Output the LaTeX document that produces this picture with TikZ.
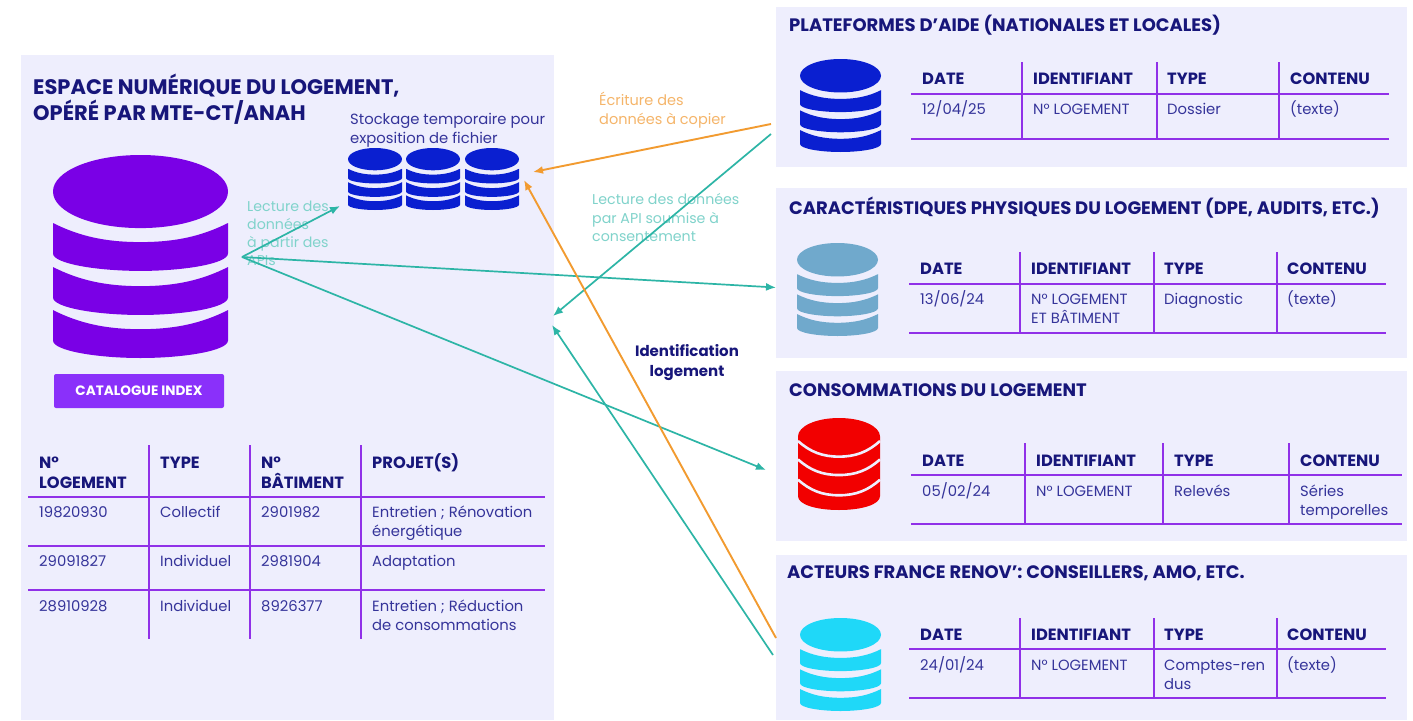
\documentclass[tikz,border=0pt]{standalone}
\usepackage{fontspec}
\setmainfont{Poppins}
\usetikzlibrary{arrows.meta}
\definecolor{panelbg}{HTML}{EEEEFD}
\definecolor{navy}{HTML}{17167A}
\definecolor{cellink}{HTML}{35349A}
\definecolor{rule}{HTML}{9030E8}
\definecolor{tealline}{HTML}{2DB5A6}
\definecolor{teallabel}{HTML}{80D3CB}
\definecolor{orangeline}{HTML}{F29B30}
\definecolor{orangelabel}{HTML}{F5B56A}
\definecolor{dbpurple}{HTML}{7A00E6}
\definecolor{dbblue}{HTML}{0A1FD0}
\definecolor{dbsteel}{HTML}{70A9CC}
\definecolor{dbred}{HTML}{F20000}
\definecolor{dbcyan}{HTML}{1FD8F8}
\definecolor{btn}{HTML}{8A30FA}
\newcounter{nn}
\tikzset{
  panel/.style={fill=panelbg,draw=none,inner sep=0,anchor=north west},
  lab/.style={inner sep=0,anchor=base west,align=left},
  ttl/.style={font=\fontsize{18}{26}\selectfont\bfseries,text=navy},
  bigttl/.style={font=\fontsize{21}{26}\selectfont\bfseries,text=navy},
  hd/.style={font=\fontsize{16.3}{20}\selectfont\bfseries,text=navy},
  idt/.style={font=\fontsize{15}{20}\selectfont\bfseries,text=navy},
  cl/.style={font=\fontsize{14.8}{19}\selectfont,text=cellink},
  tealnote/.style={font=\fontsize{14.2}{18.5}\selectfont,text=teallabel},
  orangenote/.style={font=\fontsize{14.5}{19}\selectfont,text=orangelabel},
  rl/.style={draw=rule,line width=1.5pt},
  tealarrow/.style={draw=tealline,line width=1.7pt,-{Latex[length=10pt,width=8pt]}},
  orangearrow/.style={draw=orangeline,line width=1.9pt,-{Latex[length=10pt,width=8pt]}},
}
\newcommand\lab[4]{\stepcounter{nn}\node[lab,#3] (lab\arabic{nn}) at (#1,#2) {#4};}
\newcommand\pnl[4]{\stepcounter{nn}\node[panel,minimum width=#3pt,minimum height=#4pt] (pnl\arabic{nn}) at (#1,#2) {};}
% x0 y0 width height colour
\newcommand\dbicon[5]{\begin{scope}[shift={(#1,#2)},x=#3pt,y=-#4pt,fill=#5]
  \fill (0,.18) .. controls (0,.08) and (.22,0) .. (.5,0) .. controls (.78,0) and (1,.08) .. (1,.18) .. controls (1,.28) and (.78,.36) .. (.5,.36) .. controls (.22,.36) and (0,.28) .. (0,.18) -- cycle;
  \foreach \s in {.335,.552,.764}{
    \fill (0,\s) .. controls (.15,\s+.065) and (.3,\s+.094) .. (.5,\s+.094) .. controls (.7,\s+.094) and (.85,\s+.065) .. (1,\s) -- (1,\s+.15) .. controls (1,\s+.2) and (.75,\s+.236) .. (.5,\s+.236) .. controls (.25,\s+.236) and (0,\s+.2) .. (0,\s+.15) -- cycle;
  }
\end{scope}}
\newcommand\dbsolid[5]{\begin{scope}[shift={(#1,#2)},x=#3pt,y=-#4pt]
  \fill[#5] (0,.2) .. controls (0,.09) and (.22,0) .. (.5,0) .. controls (.78,0) and (1,.09) .. (1,.2) -- (1,.85) .. controls (1,.94) and (.78,1) .. (.5,1) .. controls (.22,1) and (0,.94) .. (0,.85) -- cycle;
  \foreach \s in {.25,.45,.67}{
    \draw[panelbg,line width=2.6pt] (0,\s) .. controls (.15,\s+.12) and (.3,\s+.17) .. (.5,\s+.17) .. controls (.7,\s+.17) and (.85,\s+.12) .. (1,\s);
  }
\end{scope}}
\begin{document}
\begin{tikzpicture}[x=1pt,y=-1pt]
\useasboundingbox (0,0) rectangle (1413,720);
\fill[white] (0,0) rectangle (1413,720);
% panels
\pnl{21}{55}{533}{665}
\pnl{776}{7}{631}{160}
\pnl{776}{188}{631}{170}
\pnl{776}{371}{631}{170}
\pnl{776}{555}{631}{165}
% database icons
\dbicon{53}{155}{175}{203}{dbpurple}
\dbicon{348}{148}{54}{62}{dbblue}
\dbicon{406}{148}{54}{62}{dbblue}
\dbicon{465}{148}{54}{62}{dbblue}
\dbicon{800}{59}{81}{93}{dbblue}
\dbicon{797}{243}{81}{93}{dbsteel}
\dbsolid{798}{418}{82}{92}{dbred}
\dbicon{800}{618}{81}{93}{dbcyan}
% left panel
\lab{33}{94}{bigttl}{ESPACE NUMÉRIQUE DU LOGEMENT,}
\lab{33}{120}{bigttl}{OPÉRÉ PAR MTE-CT/ANAH}
\lab{350}{124}{cl}{Stockage temporaire pour}
\lab{350}{143}{cl}{exposition de fichier}
\node[fill=btn,rounded corners=2pt,minimum width=170pt,minimum height=34pt,inner sep=0,text=white,font=\fontsize{13.6}{14}\selectfont\bfseries] (catalogue) at (139,391) {CATALOGUE INDEX};
% left table
\draw[rl] (149,445) -- (149,639);
\draw[rl] (250,445) -- (250,639);
\draw[rl] (361,445) -- (361,639);
\draw[rl] (28,497) -- (545,497);
\draw[rl] (28,546) -- (545,546);
\draw[rl] (28,590) -- (545,590);
\lab{39}{468}{hd}{N°}
\lab{39}{488}{hd}{LOGEMENT}
\lab{160}{468}{hd}{TYPE}
\lab{261}{468}{hd}{N°}
\lab{261}{488}{hd}{BÂTIMENT}
\lab{372}{468}{hd}{PROJET(S)}
\lab{39}{517}{cl}{19820930}
\lab{160}{517}{cl}{Collectif}
\lab{261}{517}{cl}{2901982}
\lab{372}{517}{cl}{Entretien ; Rénovation}
\lab{372}{536}{cl}{énergétique}
\lab{39}{566}{cl}{29091827}
\lab{160}{566}{cl}{Individuel}
\lab{261}{566}{cl}{2981904}
\lab{372}{566}{cl}{Adaptation}
\lab{39}{611}{cl}{28910928}
\lab{160}{611}{cl}{Individuel}
\lab{261}{611}{cl}{8926377}
\lab{372}{611}{cl}{Entretien ; Réduction}
\lab{372}{630}{cl}{de consommations}
% table 1
\lab{789}{31}{ttl}{PLATEFORMES D’AIDE (NATIONALES ET LOCALES)}
\draw[rl] (911,94) -- (1389,94);
\draw[rl] (911,139) -- (1389,139);
\draw[rl] (1022,62) -- (1022,139);
\draw[rl] (1157,62) -- (1157,139);
\draw[rl] (1279,62) -- (1279,139);
\lab{922}{84}{hd}{DATE}
\lab{1033}{84}{hd}{IDENTIFIANT}
\lab{1167}{84}{hd}{TYPE}
\lab{1290}{84}{hd}{CONTENU}
\lab{922}{114}{cl}{12/04/25}
\lab{1033}{114}{cl}{N° LOGEMENT}
\lab{1167}{114}{cl}{Dossier}
\lab{1290}{114}{cl}{(texte)}
% table 2
\lab{789}{214}{ttl}{CARACTÉRISTIQUES PHYSIQUES DU LOGEMENT (DPE, AUDITS, ETC.)}
\draw[rl] (909,284) -- (1386,284);
\draw[rl] (909,333) -- (1386,333);
\draw[rl] (1020,252) -- (1020,333);
\draw[rl] (1154,252) -- (1154,333);
\draw[rl] (1277,252) -- (1277,333);
\lab{920}{274}{hd}{DATE}
\lab{1031}{274}{hd}{IDENTIFIANT}
\lab{1164}{274}{hd}{TYPE}
\lab{1287}{274}{hd}{CONTENU}
\lab{920}{304}{cl}{13/06/24}
\lab{1031}{304}{cl}{N° LOGEMENT}
\lab{1031}{323}{cl}{ET BÂTIMENT}
\lab{1164}{304}{cl}{Diagnostic}
\lab{1287}{304}{cl}{(texte)}
% table 3
\lab{789}{396}{ttl}{CONSOMMATIONS DU LOGEMENT}
\draw[rl] (911,475) -- (1402,475);
\draw[rl] (911,524) -- (1402,524);
\draw[rl] (1025,443) -- (1025,524);
\draw[rl] (1163,443) -- (1163,524);
\draw[rl] (1289,443) -- (1289,524);
\lab{922}{466}{hd}{DATE}
\lab{1036}{466}{hd}{IDENTIFIANT}
\lab{1174}{466}{hd}{TYPE}
\lab{1300}{466}{hd}{CONTENU}
\lab{922}{496}{cl}{05/02/24}
\lab{1036}{496}{cl}{N° LOGEMENT}
\lab{1174}{496}{cl}{Relevés}
\lab{1300}{496}{cl}{Séries}
\lab{1300}{515}{cl}{temporelles}
% table 4
\lab{787}{578}{ttl}{ACTEURS FRANCE RENOV’: CONSEILLERS, AMO, ETC.}
\draw[rl] (909,649) -- (1386,649);
\draw[rl] (909,698) -- (1386,698);
\draw[rl] (1020,618) -- (1020,698);
\draw[rl] (1154,618) -- (1154,698);
\draw[rl] (1277,618) -- (1277,698);
\lab{920}{640}{hd}{DATE}
\lab{1031}{640}{hd}{IDENTIFIANT}
\lab{1164}{640}{hd}{TYPE}
\lab{1287}{640}{hd}{CONTENU}
\lab{920}{670}{cl}{24/01/24}
\lab{1031}{670}{cl}{N° LOGEMENT}
\lab{1164}{670}{cl}{Comptes-ren}
\lab{1164}{689}{cl}{dus}
\lab{1287}{670}{cl}{(texte)}
% connector labels
\lab{247}{211}{tealnote}{Lecture des}
\lab{247}{229}{tealnote}{données}
\lab{247}{247}{tealnote}{à partir des}
\lab{247}{265}{tealnote}{APIs}
\lab{599}{105}{orangenote}{Écriture des}
\lab{599}{124}{orangenote}{données à copier}
\lab{592}{204}{tealnote}{Lecture des données}
\lab{592}{223}{tealnote}{par API soumise à}
\lab{592}{241}{tealnote}{consentement}
\node[inner sep=0,anchor=base,idt] (identA) at (687,356) {Identification};
\node[inner sep=0,anchor=base,idt] (identB) at (687,376) {logement};
% connector ends
\coordinate (hub) at (242,257);
\coordinate (stockA) at (340,206);
\coordinate (stockB) at (533,172);
\coordinate (stockC) at (524,180);
\coordinate (platA) at (771,124);
\coordinate (platB) at (771,134);
\coordinate (charIn) at (776,287.5);
\coordinate (consoIn) at (766,470);
\coordinate (actA) at (776,638);
\coordinate (actB) at (773,655);
\coordinate (espA) at (553,316);
\coordinate (espB) at (552,325);
% connectors
\draw[tealarrow] (hub) -- (stockA);
\draw[tealarrow] (hub) -- (charIn);
\draw[tealarrow] (hub) -- (consoIn);
\draw[tealarrow] (platB) -- (espA);
\draw[tealarrow] (actB) -- (espB);
\draw[orangearrow] (platA) -- (stockB);
\draw[orangearrow] (actA) -- (stockC);
\end{tikzpicture}
\end{document}
